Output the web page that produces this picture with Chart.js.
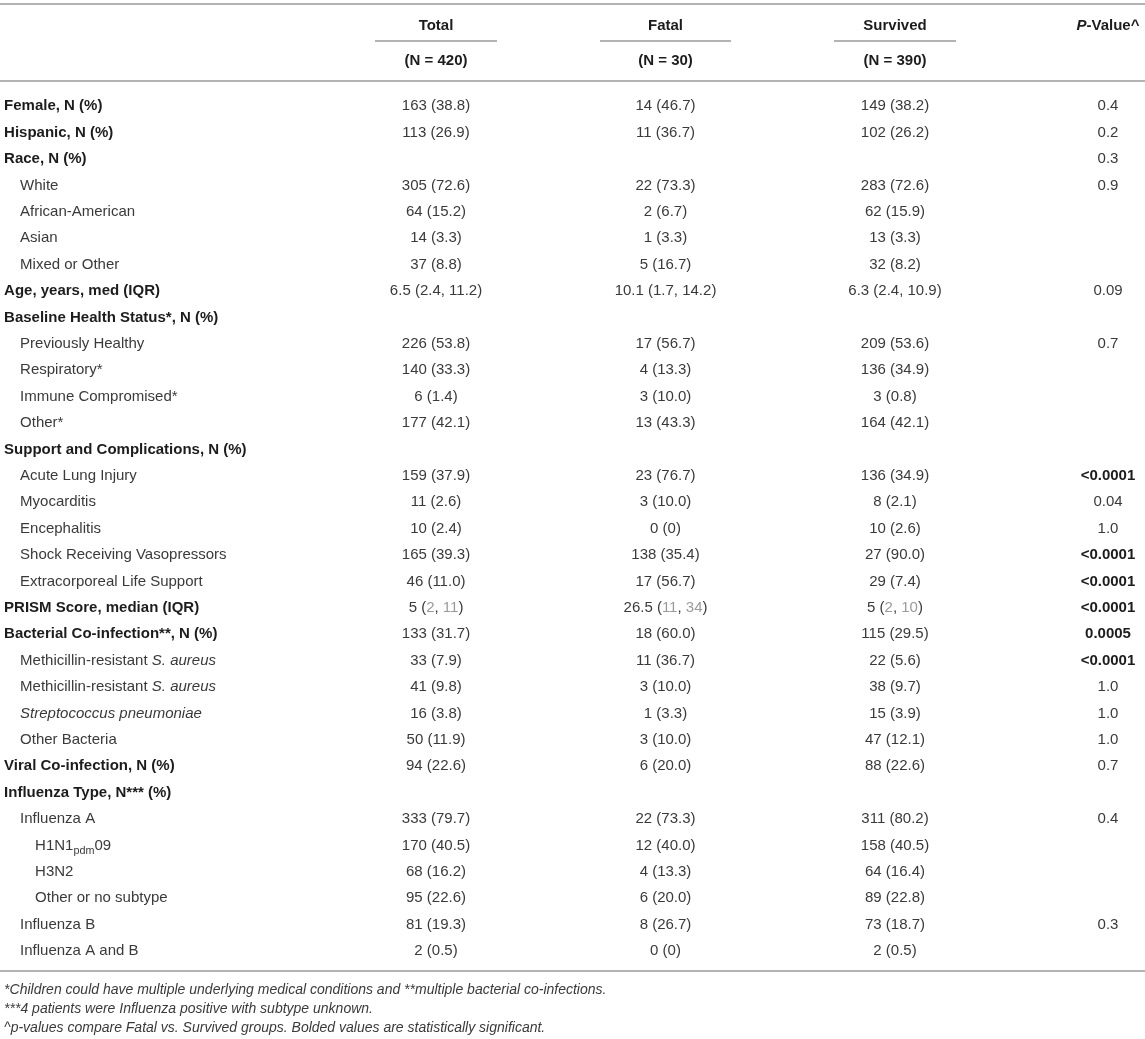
<!DOCTYPE html>
<html>
<head>
<meta charset="utf-8">
<script src="https://cdn.jsdelivr.net/npm/chart.js@4.4.1/dist/chart.umd.min.js"></script>
<style>
  html, body { margin: 0; padding: 0; background: #ffffff; }
  #wrap { width: 1145px; height: 1039px; position: relative; }
</style>
</head>
<body>
<div id="wrap"><canvas id="c"></canvas></div>
<script>
// ---------- DATA ----------
const columnHeaders = ['Total', 'Fatal', 'Survived', '<i>P</i>-Value^'];
const groupSizes = ['(N = 420)', '(N = 30)', '(N = 390)', ''];

const rowLabels = [
  'Female, N (%)',
  'Hispanic, N (%)',
  'Race, N (%)',
  'White',
  'African-American',
  'Asian',
  'Mixed or Other',
  'Age, years, med (IQR)',
  'Baseline Health Status*, N (%)',
  'Previously Healthy',
  'Respiratory*',
  'Immune Compromised*',
  'Other*',
  'Support and Complications, N (%)',
  'Acute Lung Injury',
  'Myocarditis',
  'Encephalitis',
  'Shock Receiving Vasopressors',
  'Extracorporeal Life Support',
  'PRISM Score, median (IQR)',
  'Bacterial Co-infection**, N (%)',
  'Methicillin-resistant <i>S. aureus</i>',
  'Methicillin-resistant <i>S. aureus</i>',
  '<i>Streptococcus pneumoniae</i>',
  'Other Bacteria',
  'Viral Co-infection, N (%)',
  'Influenza Type, N*** (%)',
  'Influenza A',
  'H1N1<sub>pdm</sub>09',
  'H3N2',
  'Other or no subtype',
  'Influenza B',
  'Influenza A and B'
];

const totalValues = [
  '163 (38.8)', '113 (26.9)', '', '305 (72.6)', '64 (15.2)', '14 (3.3)', '37 (8.8)',
  '6.5 (2.4, 11.2)', '', '226 (53.8)', '140 (33.3)', '6 (1.4)', '177 (42.1)',
  '', '159 (37.9)', '11 (2.6)', '10 (2.4)', '165 (39.3)', '46 (11.0)',
  '5 (<g>2</g>, <g>11</g>)', '133 (31.7)', '33 (7.9)', '41 (9.8)', '16 (3.8)', '50 (11.9)',
  '94 (22.6)', '', '333 (79.7)', '170 (40.5)', '68 (16.2)', '95 (22.6)', '81 (19.3)', '2 (0.5)'
];

const fatalValues = [
  '14 (46.7)', '11 (36.7)', '', '22 (73.3)', '2 (6.7)', '1 (3.3)', '5 (16.7)',
  '10.1 (1.7, 14.2)', '', '17 (56.7)', '4 (13.3)', '3 (10.0)', '13 (43.3)',
  '', '23 (76.7)', '3 (10.0)', '0 (0)', '138 (35.4)', '17 (56.7)',
  '26.5 (<g>11</g>, <g>34</g>)', '18 (60.0)', '11 (36.7)', '3 (10.0)', '1 (3.3)', '3 (10.0)',
  '6 (20.0)', '', '22 (73.3)', '12 (40.0)', '4 (13.3)', '6 (20.0)', '8 (26.7)', '0 (0)'
];

const survivedValues = [
  '149 (38.2)', '102 (26.2)', '', '283 (72.6)', '62 (15.9)', '13 (3.3)', '32 (8.2)',
  '6.3 (2.4, 10.9)', '', '209 (53.6)', '136 (34.9)', '3 (0.8)', '164 (42.1)',
  '', '136 (34.9)', '8 (2.1)', '10 (2.6)', '27 (90.0)', '29 (7.4)',
  '5 (<g>2</g>, <g>10</g>)', '115 (29.5)', '22 (5.6)', '38 (9.7)', '15 (3.9)', '47 (12.1)',
  '88 (22.6)', '', '311 (80.2)', '158 (40.5)', '64 (16.4)', '89 (22.8)', '73 (18.7)', '2 (0.5)'
];

const pValues = [
  '0.4', '0.2', '0.3', '0.9', '', '', '',
  '0.09', '', '0.7', '', '', '',
  '', '<0.0001', '0.04', '1.0', '<0.0001', '<0.0001',
  '<0.0001', '0.0005', '<0.0001', '1.0', '1.0', '1.0',
  '0.7', '', '0.4', '', '', '', '0.3', ''
];

// statistically significant (bolded) p-values
const significantRows = [14, 17, 18, 19, 20, 21];

// indentation level of each row label (0 = bold section heading)
const rowLevels = [0,0,0,1,1,1,1,0,0,1,1,1,1,0,1,1,1,1,1,0,0,1,1,1,1,0,0,1,2,2,2,1,1];

const footnotes = [
  '*Children could have multiple underlying medical conditions and **multiple bacterial co-infections.',
  '***4 patients were Influenza positive with subtype unknown.',
  '^p-values compare Fatal vs. Survived groups. Bolded values are statistically significant.'
];

// ---------- LAYOUT (column / row positions in scale units) ----------
const COL_POS = { label: -0.882, cols: [1, 2, 3, 3.928] };
const HEADER_ROW = -3.04, SIZE_ROW = -1.705;
const TOP_RULE = -3.83, UNDER_RULE = -2.44, HEAD_RULE = -0.89, BOTTOM_RULE = 32.80;
const FOOT_ROWS = [33.49, 34.21, 34.93];
const INDENT_PX = [0, 16, 31];
const UNDERLINE_W = [122, 131, 122];

const FONT = "'Liberation Sans', Arial, Helvetica, sans-serif";
const BODY_SIZE = 15, FOOT_SIZE = 14;
const TXT = '#3a3a3a', TXT_BOLD = '#1c1c1c', GRAY = '#9a9a9a', RULE = '#b3b3b3';

// ---------- build datasets ----------
function pts(xv, rows, extra) {
  const out = [];
  rows.forEach((t, i) => { if (t !== '') out.push(Object.assign({ x: xv, y: i, text: t }, extra ? extra(i) : {})); });
  return out;
}
const datasets = [
  { label: 'labels', align: 'left',
    data: rowLabels.map((t, i) => ({ x: COL_POS.label, y: i, text: t, bold: rowLevels[i] === 0, indent: INDENT_PX[rowLevels[i]] })) },
  { label: 'Total', align: 'center', data: pts(COL_POS.cols[0], totalValues) },
  { label: 'Fatal', align: 'center', data: pts(COL_POS.cols[1], fatalValues) },
  { label: 'Survived', align: 'center', data: pts(COL_POS.cols[2], survivedValues) },
  { label: 'P', align: 'center', data: pts(COL_POS.cols[3], pValues, i => ({ bold: significantRows.includes(i) })) },
  { label: 'headers', align: 'center',
    data: columnHeaders.map((t, i) => ({ x: COL_POS.cols[i], y: HEADER_ROW, text: t, bold: true }))
      .concat(groupSizes.filter(t => t).map((t, i) => ({ x: COL_POS.cols[i], y: SIZE_ROW, text: t, bold: true }))) },
  { label: 'foot', align: 'left',
    data: footnotes.map((t, i) => ({ x: COL_POS.label, y: FOOT_ROWS[i], text: t, italic: true, size: FOOT_SIZE })) }
].map(d => Object.assign(d, { pointRadius: 0, pointHoverRadius: 0, showLine: false }));

// ---------- rich text ----------
function parseRich(s) {
  const segs = []; const re = /<(i|sub|g)>(.*?)<\/\1>/g; let last = 0, m;
  while ((m = re.exec(s))) {
    if (m.index > last) segs.push({ t: s.slice(last, m.index) });
    segs.push({ t: m[2], tag: m[1] });
    last = re.lastIndex;
  }
  if (last < s.length) segs.push({ t: s.slice(last) });
  return segs;
}
function segFont(seg, p) {
  const size = (p.size || BODY_SIZE) * (seg.tag === 'sub' ? 0.72 : 1);
  const it = (p.italic || seg.tag === 'i') ? 'italic ' : '';
  const b = p.bold ? 'bold ' : '';
  return it + b + size + 'px ' + FONT;
}
function drawRich(ctx, p, x, y, align) {
  const segs = parseRich(p.text);
  const size = p.size || BODY_SIZE;
  let w = 0;
  segs.forEach(s => { ctx.font = segFont(s, p); s.w = ctx.measureText(s.t).width; w += s.w; });
  let cx = align === 'center' ? x - w / 2 : x + (p.indent || 0);
  const base = y + size * 0.358;
  ctx.textBaseline = 'alphabetic'; ctx.textAlign = 'left';
  segs.forEach(s => {
    ctx.font = segFont(s, p);
    ctx.fillStyle = s.tag === 'g' ? GRAY : (p.bold ? TXT_BOLD : TXT);
    ctx.fillText(s.t, cx, base + (s.tag === 'sub' ? size * 0.3 : 0));
    cx += s.w;
  });
}

const tablePlugin = {
  id: 'tableDraw',
  beforeDraw(chart) {
    const c = chart.ctx; c.save(); c.fillStyle = '#ffffff'; c.fillRect(0, 0, chart.width, chart.height); c.restore();
  },
  afterDatasetsDraw(chart) {
    const ctx = chart.ctx, xs = chart.scales.x, ys = chart.scales.y;
    ctx.save();
    ctx.strokeStyle = RULE; ctx.lineWidth = 2;
    const hl = (yv, x0, x1) => { const y = Math.round(ys.getPixelForValue(yv)); ctx.beginPath(); ctx.moveTo(x0, y); ctx.lineTo(x1, y); ctx.stroke(); };
    [TOP_RULE, HEAD_RULE, BOTTOM_RULE].forEach(v => hl(v, 0, chart.width));
    [0, 1, 2].forEach(i => { const cx = xs.getPixelForValue(COL_POS.cols[i]); hl(UNDER_RULE, cx - UNDERLINE_W[i] / 2, cx + UNDERLINE_W[i] / 2); });
    chart.data.datasets.forEach((ds, di) => {
      const meta = chart.getDatasetMeta(di);
      meta.data.forEach((el, i) => drawRich(ctx, ds.data[i], el.x, el.y, ds.align));
    });
    ctx.restore();
  }
};

new Chart(document.getElementById('c'), {
  type: 'scatter',
  data: { datasets },
  options: {
    responsive: true, maintainAspectRatio: false, animation: false,
    layout: { padding: 0 },
    plugins: { legend: { display: false }, tooltip: { enabled: false } },
    events: [],
    scales: {
      x: { type: 'linear', display: false, min: -0.8998, max: 4.0893 },
      y: { type: 'linear', display: false, reverse: true, min: -3.977, max: 35.379 }
    }
  },
  plugins: [tablePlugin]
});
</script>
</body>
</html>
